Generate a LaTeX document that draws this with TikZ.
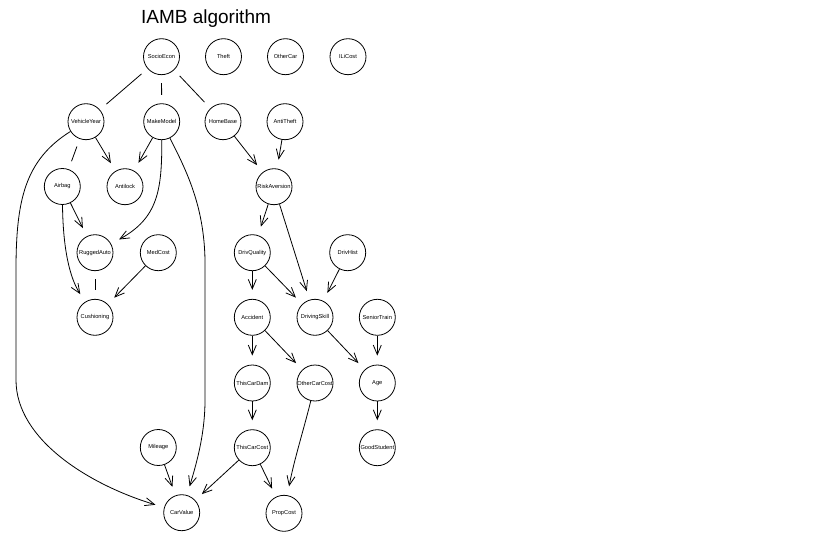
\documentclass[tikz,border=0pt]{standalone}
\usepackage{fontspec}
\setmainfont{Liberation Sans}
\usetikzlibrary{arrows.meta}
\begin{document}
\begin{tikzpicture}[x=1pt,y=-1pt,line width=0.8pt,
  var/.style={draw, circle, minimum size=36pt, inner sep=0pt,
              font=\fontsize{5.7}{6}\selectfont},
  dir/.style={-{Straight Barb[length=9.5pt,width=8pt]}, shorten >=9pt},
  undir/.style={shorten <=8pt, shorten >=8.5pt}]
\useasboundingbox (0,0) rectangle (832,540);

\node[font=\fontsize{19}{22}\selectfont, anchor=base] (title) at (206,24) {IAMB algorithm};

% variables
\node[var] (SocioEcon)    at (161.5,56.7)  {SocioEcon};
\node[var] (Theft)        at (223.5,56.7)  {Theft};
\node[var] (OtherCar)     at (285.5,56.7)  {OtherCar};
\node[var] (ILiCost)      at (348,56.7)    {ILiCost};
\node[var] (VehicleYear)  at (86,121.7)    {VehicleYear};
\node[var] (MakeModel)    at (161.7,121.7) {MakeModel};
\node[var] (HomeBase)     at (223,121.7)   {HomeBase};
\node[var] (AntiTheft)    at (285,121.7)   {AntiTheft};
\node[var] (Airbag)       at (62.3,186.5)  {Airbag};
\node[var] (Antilock)     at (125,186.7)   {Antilock};
\node[var] (RiskAversion) at (274,186.7)   {RiskAversion};
\node[var] (RuggedAuto)   at (95,252.7)    {RuggedAuto};
\node[var] (MedCost)      at (158.3,252.7) {MedCost};
\node[var] (DrivQuality)  at (252.3,252.7) {DrivQuality};
\node[var] (DrivHist)     at (347.7,252.7) {DrivHist};
\node[var] (Cushioning)   at (95,317.3)    {Cushioning};
\node[var] (Accident)     at (252.3,317.3) {Accident};
\node[var] (DrivingSkill) at (315,317.3)   {DrivingSkill};
\node[var] (SeniorTrain)  at (377.3,317.3) {SeniorTrain};
\node[var] (ThisCarDam)   at (252.3,383)   {ThisCarDam};
\node[var] (OtherCarCost) at (315,383)     {OtherCarCost};
\node[var] (Age)          at (377.3,383)   {Age};
\node[var] (Mileage)      at (158.3,447.5) {Mileage};
\node[var] (ThisCarCost)  at (252.3,447.7) {ThisCarCost};
\node[var] (GoodStudent)  at (377.3,447.7) {GoodStudent};
\node[var] (CarValue)     at (181.7,512.7) {CarValue};
\node[var] (PropCost)     at (284,513.3)   {PropCost};

% undirected arcs
\draw[undir] (SocioEcon) -- (VehicleYear);
\draw[undir] (SocioEcon) -- (MakeModel);
\draw[undir] (SocioEcon) -- (HomeBase);
\draw[undir] (VehicleYear) -- (Airbag);
\draw[undir] (RuggedAuto) -- (Cushioning);

% directed arcs
\draw[dir] (VehicleYear) -- (Antilock);
\draw[dir] (MakeModel) -- (Antilock);
\draw[dir] (HomeBase) -- (RiskAversion);
\draw[dir] (AntiTheft) -- (RiskAversion);
\draw[dir] (Airbag) -- (RuggedAuto);
\draw[dir] (MedCost) -- (Cushioning);
\draw[dir] (RiskAversion) -- (DrivQuality);
\draw[dir] (RiskAversion) -- (DrivingSkill);
\draw[dir] (DrivQuality) -- (Accident);
\draw[dir] (DrivQuality) -- (DrivingSkill);
\draw[dir] (DrivHist) -- (DrivingSkill);
\draw[dir] (Accident) -- (ThisCarDam);
\draw[dir] (Accident) -- (OtherCarCost);
\draw[dir] (DrivingSkill) -- (Age);
\draw[dir] (SeniorTrain) -- (Age);
\draw[dir] (ThisCarDam) -- (ThisCarCost);
\draw[dir] (Age) -- (GoodStudent);
\draw[dir] (ThisCarCost) -- (CarValue);
\draw[dir] (ThisCarCost) -- (PropCost);
\draw[dir] (Mileage) -- (CarValue);

% curved directed arcs
\draw[dir] (VehicleYear) .. controls (25,160) and (16,200) .. (16,270)
  -- (16,380) .. controls (16,440) and (90,485) .. (CarValue);
\draw[dir] (MakeModel) .. controls (186,170) and (204,205) .. (205,260)
  -- (205,400) .. controls (205,435) and (196,465) .. (CarValue);
\draw[dir] (MakeModel) .. controls (162,190) and (158,218) .. (RuggedAuto);
\draw[dir] (Airbag) .. controls (63,250) and (70,278) .. (Cushioning);
\draw[dir] (OtherCarCost) .. controls (305,425) and (294,460) .. (PropCost);
\end{tikzpicture}
\end{document}
